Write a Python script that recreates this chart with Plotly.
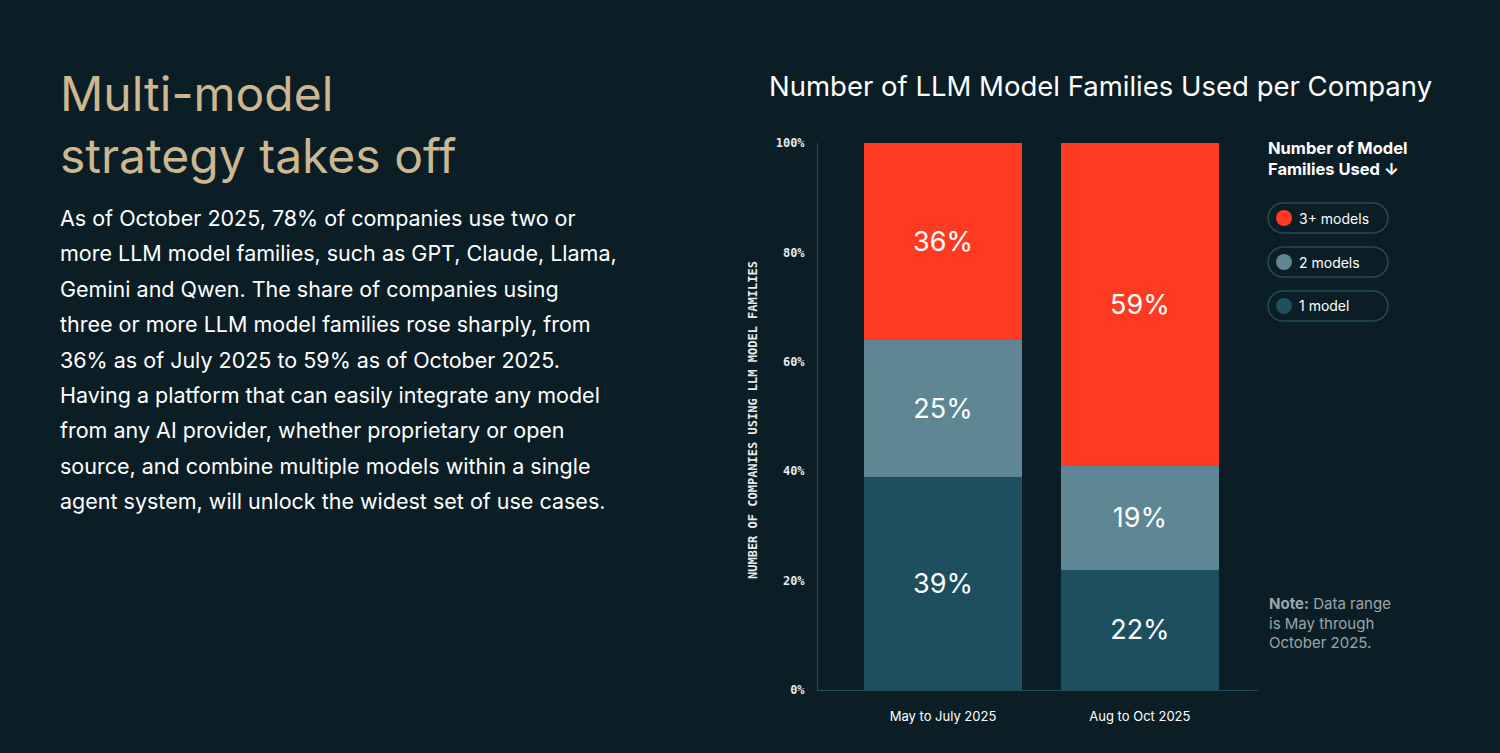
import math
import plotly.graph_objects as go

periods = ["May to July 2025", "Aug to Oct 2025"]
one_model = [39, 22]
two_models = [25, 19]
three_plus = [36, 59]
series_names = ["1 model", "2 models", "3+ models"]
colors = ["#1d4f5f", "#5f8695", "#ff3a22"]

body_lines = [
    "As of October 2025, 78% of companies use two or",
    "more LLM model families, such as GPT, Claude, Llama,",
    "Gemini and Qwen. The share of companies using",
    "three or more LLM model families rose sharply, from",
    "36% as of July 2025 to 59% as of October 2025.",
    "Having a platform that can easily integrate any model",
    "from any AI provider, whether proprietary or open",
    "source, and combine multiple models within a single",
    "agent system, will unlock the widest set of use cases.",
]

BG = "#0b1e25"
OFF = 8  # page body margin
W, H = 1500 - 2 * OFF, 753 - 2 * OFF
L, R, T, B = 818, 1258, 143, 690

def px(x):
    return (x - OFF) / W

def py(y):
    return 1 - (y - OFF) / H

def pill_path(x0, x1, cy, r):
    pts = []
    for k in range(13):
        a = -math.pi / 2 + math.pi * k / 12
        pts.append((x1 - r + r * math.cos(a), cy + r * math.sin(a)))
    for k in range(13):
        a = math.pi / 2 + math.pi * k / 12
        pts.append((x0 + r + r * math.cos(a), cy + r * math.sin(a)))
    return "M " + " L ".join(f"{px(x):.5f},{py(y):.5f}" for x, y in pts) + " Z"

def note(text, x, y, **kw):
    d = dict(text=text, x=px(x), y=py(y), xref="paper", yref="paper", showarrow=False)
    d.update(kw)
    return d

fig = go.Figure()
for vals, name, c in zip([one_model, two_models, three_plus], series_names, colors):
    fig.add_trace(go.Bar(
        x=periods, y=vals, name=name, marker=dict(color=c, line=dict(width=0)),
        text=[f"{v}%" for v in vals], textposition="inside", insidetextanchor="middle",
        textfont=dict(family="Inter", size=27, color="white"), showlegend=False,
    ))

ann = []
ann.append(note("Multi-model<br>strategy takes off", 58, 62, xanchor="left", yanchor="top", align="left",
                font=dict(family="Inter", size=48, color="#cdb791")))
for i, line in enumerate(body_lines):
    ann.append(note(line, 58, 218 + i * 35.4, xanchor="left", yanchor="middle",
                    font=dict(family="Inter", size=21.5, color="white")))
ann.append(note("Number of LLM Model Families Used per Company", 1100, 86, xanchor="center", yanchor="middle",
                font=dict(family="Inter", size=27.5, color="white")))
ann.append(note("<b>NUMBER OF COMPANIES USING LLM MODEL FAMILIES</b>", 753, 420, textangle=-90,
                xanchor="center", yanchor="middle",
                font=dict(family="DejaVu Sans Mono", size=12, color="#e6e9ea")))
ann.append(note("<b>Number of Model<br>Families Used ↓</b>", 1266, 136, xanchor="left", yanchor="top", align="left",
                font=dict(family="Inter", size=16.5, color="white")))
ann.append(note("<b>Note:</b> Data range<br>is May through<br>October 2025.", 1267, 592, xanchor="left",
                yanchor="top", align="left", font=dict(family="Inter", size=15, color="#9aa6aa")))

shapes = []
for i, (name, c) in enumerate(zip(series_names[::-1], colors[::-1])):
    cy = 218 + i * 44
    shapes.append(dict(type="path", xref="paper", yref="paper", path=pill_path(1268, 1388, cy, 15),
                       line=dict(color="#1f4c58", width=1.5), fillcolor="rgba(0,0,0,0)"))
    shapes.append(dict(type="circle", xref="paper", yref="paper",
                       x0=px(1276), x1=px(1292), y0=py(cy + 8), y1=py(cy - 8),
                       line=dict(width=0), fillcolor=c))
    ann.append(note(name, 1297, cy, xanchor="left", yanchor="middle",
                    font=dict(family="Inter", size=14, color="white")))

fig.update_layout(
    barmode="stack", bargap=0.2, width=W, height=H,
    paper_bgcolor=BG, plot_bgcolor=BG,
    margin=dict(l=0, r=0, t=0, b=0, autoexpand=False),
    xaxis=dict(domain=[px(L), px(R)], range=[-0.635, 1.6], showgrid=False, showline=True, linecolor="#1f4c58",
               ticks="", ticklabelstandoff=14, tickfont=dict(family="Inter", size=13, color="white"), fixedrange=True),
    yaxis=dict(domain=[py(B), py(T)], range=[0, 100], tickvals=[0, 20, 40, 60, 80, 100],
               ticktext=["<b>0%</b>", "<b>20%</b>", "<b>40%</b>", "<b>60%</b>", "<b>80%</b>", "<b>100%</b>"],
               showgrid=False, showline=True, linecolor="#1f4c58", zeroline=False, ticks="", ticklabelstandoff=10,
               tickfont=dict(family="DejaVu Sans Mono", size=12, color="#e6e9ea"), fixedrange=True),
    annotations=ann, shapes=shapes,
)

fig.write_html("out.html", post_script="document.body.style.background='%s';" % BG)
